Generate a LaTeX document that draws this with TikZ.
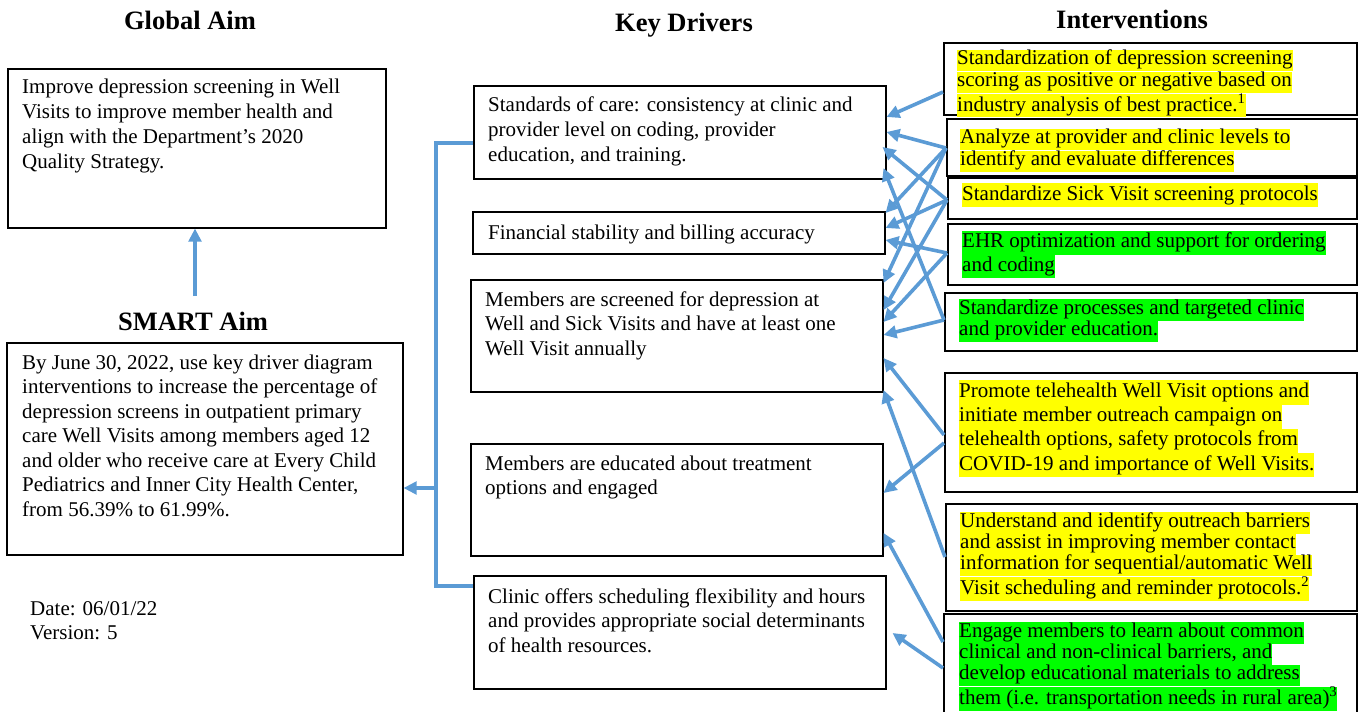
\documentclass[tikz,border=0pt]{standalone}
\usepackage{fontspec}
\setmainfont{Liberation Serif}
\usetikzlibrary{arrows.meta,calc}
\definecolor{arrblue}{RGB}{91,155,213}
\definecolor{hly}{RGB}{255,255,0}
\definecolor{hlg}{RGB}{0,255,0}
\newcommand{\hy}[1]{{\setlength{\fboxsep}{0pt}\colorbox{hly}{\strut #1}}}
\newcommand{\hg}[1]{{\setlength{\fboxsep}{0pt}\colorbox{hlg}{\strut #1}}}
\newcommand{\pl}[1]{\strut #1}
\begin{document}
\begin{tikzpicture}[x=1pt,y=-1pt,
  box/.style={draw,line width=1.5pt,anchor=north west,inner sep=0pt},
  txt/.style={anchor=north west,inner sep=0pt,align=left},
  ttl/.style={anchor=base,inner sep=0pt,font=\fontsize{26.5}{30}\selectfont\bfseries},
  arr/.style={draw=arrblue,line width=3.6pt,-{Triangle[length=13pt,width=12.5pt]}},
  ln/.style={draw=arrblue,line width=3.6pt}]
\useasboundingbox (0,0) rectangle (1358,712);
% titles
\node[ttl] (tGA) at (190,29) {Global Aim};
\node[ttl] (tSA) at (193,330) {SMART Aim};
\node[ttl] (tKD) at (684,31) {Key Drivers};
\node[ttl] (tIN) at (1132,28) {Interventions};
% boxes
\node[box,minimum width=378pt,minimum height=159pt] (GA) at (7,68) {};
\node[box,minimum width=396pt,minimum height=212pt] (SA) at (6,342) {};
\node[box,minimum width=412pt,minimum height=93pt] (KD1) at (473,85) {};
\node[box,minimum width=412pt,minimum height=42pt] (KD2) at (472,211) {};
\node[box,minimum width=412pt,minimum height=112pt] (KD3) at (470,279) {};
\node[box,minimum width=412pt,minimum height=112pt] (KD4) at (470,443) {};
\node[box,minimum width=412pt,minimum height=113pt] (KD5) at (473,575) {};
\node[box,minimum width=413pt,minimum height=72pt] (I1) at (943,42) {};
\node[box,minimum width=410pt,minimum height=57pt] (I2) at (946,118) {};
\node[box,minimum width=409pt,minimum height=41pt] (I3) at (947,177) {};
\node[box,minimum width=409pt,minimum height=61pt] (I4) at (947,223) {};
\node[box,minimum width=412pt,minimum height=58pt] (I5) at (944,292) {};
\node[box,minimum width=412pt,minimum height=119pt] (I6) at (944,372) {};
\node[box,minimum width=411pt,minimum height=107pt] (I7) at (945,503) {};
\node[box,minimum width=413pt,minimum height=105pt] (I8) at (943,613) {};
% texts
\node[txt,font=\fontsize{21}{25}\selectfont] (tGAx) at (22,75.5) {\pl{Improve depression screening in Well}\\\pl{Visits to improve member health and}\\\pl{align with the Department’s 2020}\\\pl{Quality Strategy.}};
\node[txt,font=\fontsize{21}{24.5}\selectfont] (tSAx) at (22,352) {\pl{By June 30, 2022, use key driver diagram}\\\pl{interventions to increase the percentage of}\\\pl{depression screens in outpatient primary}\\\pl{care Well Visits among members aged 12}\\\pl{and older who receive care at Every Child}\\\pl{Pediatrics and Inner City Health Center,}\\\pl{from 56.39\% to 61.99\%.}};
\node[txt,font=\fontsize{21}{24}\selectfont] (tDate) at (30,598) {\pl{Date: 06/01/22}\\\pl{Version: 5}};
\node[txt,font=\fontsize{21}{25}\selectfont] (tK1) at (488,93.5) {\pl{Standards of care: consistency at clinic and}\\\pl{provider level on coding, provider}\\\pl{education, and training.}};
\node[txt,font=\fontsize{21}{25}\selectfont] (tK2) at (488,221.5) {\pl{Financial stability and billing accuracy}};
\node[txt,font=\fontsize{21}{24.5}\selectfont] (tK3) at (485,289) {\pl{Members are screened for depression at}\\\pl{Well and Sick Visits and have at least one}\\\pl{Well Visit annually}};
\node[txt,font=\fontsize{21}{24}\selectfont] (tK4) at (485,453) {\pl{Members are educated about treatment}\\\pl{options and engaged}};
\node[txt,font=\fontsize{21}{24.5}\selectfont] (tK5) at (488,586) {\pl{Clinic offers scheduling flexibility and hours}\\\pl{and provides appropriate social determinants}\\\pl{of health resources.}};
\node[txt,font=\fontsize{21}{20.5}\selectfont] (tI1) at (957,50) {\hy{Standardization of depression screening}\\\hy{scoring as positive or negative based on}\\\hy{industry analysis of best practice.\textsuperscript{1}}};
\node[txt,font=\fontsize{21}{20}\selectfont] (tI2) at (960,129) {\hy{Analyze at provider and clinic levels to}\\\hy{identify and evaluate differences}};
\node[txt,font=\fontsize{21}{24}\selectfont] (tI3) at (962,183) {\hy{Standardize Sick Visit screening protocols}};
\node[txt,font=\fontsize{21}{23.5}\selectfont] (tI4) at (962,231) {\hg{EHR optimization and support for ordering}\\\hg{and coding}};
\node[txt,font=\fontsize{21}{21.5}\selectfont] (tI5) at (959,299) {\hg{Standardize processes and targeted clinic}\\\hg{and provider education.}};
\node[txt,font=\fontsize{21}{24.3}\selectfont] (tI6) at (959,380) {\hy{Promote telehealth Well Visit options and}\\\hy{initiate member outreach campaign on}\\\hy{telehealth options, safety protocols from}\\\hy{COVID-19 and importance of Well Visits.}};
\node[txt,font=\fontsize{21}{21.3}\selectfont] (tI7) at (960,512) {\hy{Understand and identify outreach barriers}\\\hy{and assist in improving member contact}\\\hy{information for sequential/automatic Well}\\\hy{Visit scheduling and reminder protocols.\textsuperscript{2}}};
\node[txt,font=\fontsize{21}{21.3}\selectfont] (tI8) at (959,622) {\hg{Engage members to learn about common}\\\hg{clinical and non-clinical barriers, and}\\\hg{develop educational materials to address}\\\hg{them (i.e. transportation needs in rural area)\textsuperscript{3}}};
% global / smart connectors
\coordinate (gs) at (195,296);
\draw[arr] (gs) -- (gs |- GA.south);
\coordinate (bt) at (436,143);
\coordinate (bb) at (436,586);
\coordinate (bm) at (436,488);
\draw[ln] (bt -| KD1.west) -- (bt) -- (bb) -- (bb -| KD5.west);
\draw[arr] (bm) -- (bm -| SA.east);
% intervention -> driver connectors
\draw[arr] ([yshift=-50pt]I1.north west) -- ([yshift=-32pt]KD1.north east);
\draw[arr] ([yshift=-30pt]I2.north west) -- ([yshift=-47pt]KD1.north east);
\draw[arr] ([yshift=-30pt]I2.north west) -- ([yshift=-2pt]KD2.north east);
\draw[arr] ([yshift=-30pt]I2.north west) -- ([yshift=-4pt]KD3.north east);
\draw[arr] ([yshift=-23pt]I3.north west) -- ([xshift=-4pt,yshift=-62pt]KD1.north east);
\draw[arr] ([yshift=-23pt]I3.north west) -- ([yshift=-17pt]KD2.north east);
\draw[arr] ([yshift=-23pt]I3.north west) -- ([yshift=-31pt]KD3.north east);
\draw[arr] ([yshift=-30pt]I4.north west) -- ([yshift=-29pt]KD2.north east);
\draw[arr] ([yshift=-30pt]I4.north west) -- ([yshift=-43pt]KD3.north east);
\draw[arr] ([yshift=-28pt]I5.north west) -- ([xshift=-3pt,yshift=-83pt]KD1.north east);
\draw[arr] ([yshift=-28pt]I5.north west) -- ([yshift=-56pt]KD3.north east);
\draw[arr] ([yshift=-63pt]I6.north west) -- ([yshift=-79pt]KD3.north east);
\draw[arr] ([yshift=-71pt]I6.north west) -- ([yshift=-50pt]KD4.north east);
\draw[arr] ([yshift=-54pt]I7.north west) -- ([yshift=-111pt]KD3.north east);
\draw[arr] ([yshift=-29pt]I8.north west) -- ([yshift=-90pt]KD4.north east);
\draw[arr] ([yshift=-55pt]I8.north west) -- ([xshift=6pt,yshift=-58pt]KD5.north east);
\end{tikzpicture}
\end{document}
